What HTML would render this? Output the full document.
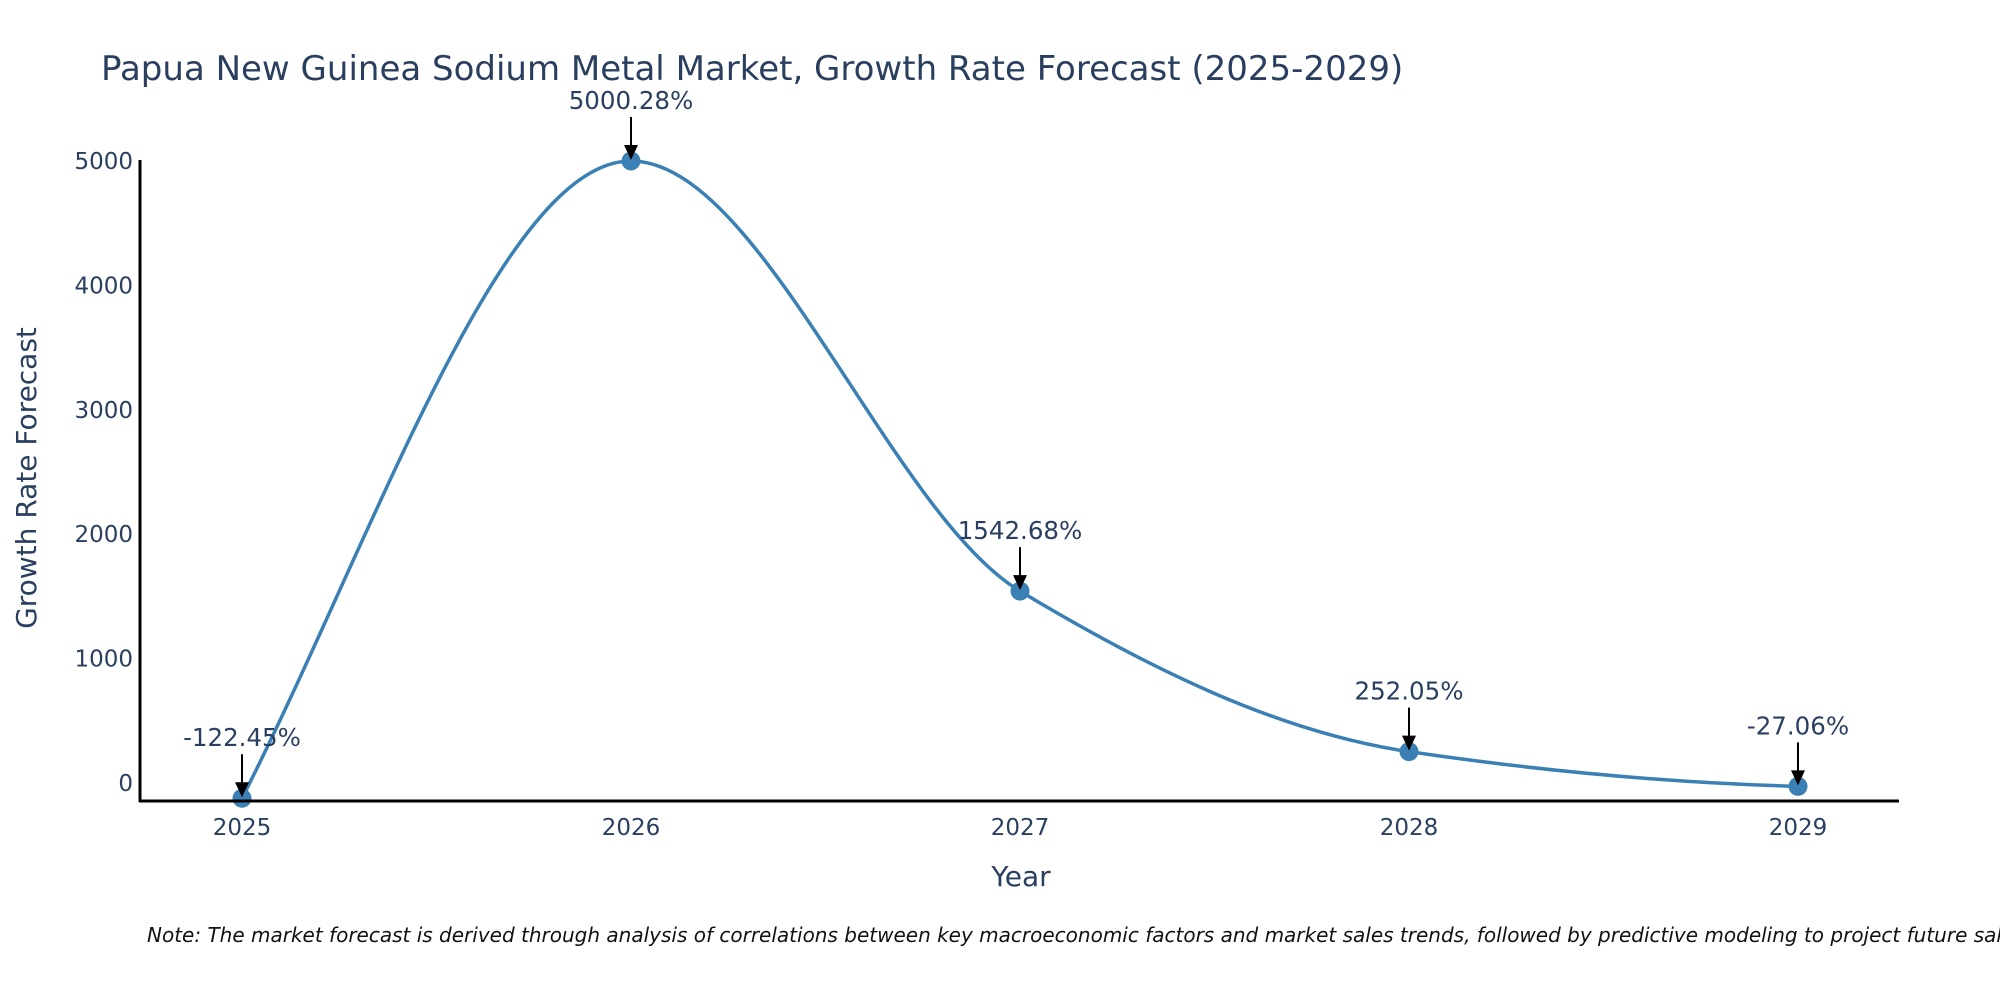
<!DOCTYPE html>
<html><head><meta charset="utf-8"><style>
body{margin:0;background:#fff}
svg text{font-family:"DejaVu Sans","Liberation Sans",sans-serif;fill:#2a3f5f}
</style></head><body>
<svg id="chart" width="2000" height="1000" xmlns="http://www.w3.org/2000/svg">
<rect width="2000" height="1000" fill="#fff"/>
<text x="101" y="80" font-size="34">Papua New Guinea Sodium Metal Market, Growth Rate Forecast (2025-2029)</text>
<g id="yticks"></g><g id="xticks"></g>
<path id="curve" fill="none" stroke="#3b80b5" stroke-width="3.5"/>
<g id="marks"></g>
<line x1="140" y1="160" x2="140" y2="802" stroke="#000" stroke-width="3"/>
<line x1="139" y1="801" x2="1899" y2="801" stroke="#000" stroke-width="3"/>
<text transform="translate(36,478) rotate(-90)" text-anchor="middle" font-size="28">Growth Rate Forecast</text>
<text x="1021" y="886" text-anchor="middle" font-size="28">Year</text>
<text x="147" y="942" font-size="20" font-style="italic" style="fill:#111">Note: The market forecast is derived through analysis of correlations between key macroeconomic factors and market sales trends, followed by predictive modeling to project future sales.</text>
</svg>
<script>
const years=[2025,2026,2027,2028,2029];
const values=[-122.45,5000.28,1542.68,252.05,-27.06];
const labels=["-122.45%","5000.28%","1542.68%","252.05%","-27.06%"];
const yTicks=[0,1000,2000,3000,4000,5000];
const NS="http://www.w3.org/2000/svg";
const X=v=>242+(v-2025)*389;
const Y=v=>783-v*0.1244;
const yt=document.getElementById('yticks'),xt=document.getElementById('xticks'),mk=document.getElementById('marks');
function el(t,a,p){const e=document.createElementNS(NS,t);for(const k in a)e.setAttribute(k,a[k]);p.appendChild(e);return e;}
yTicks.forEach(v=>{const t=el('text',{x:133,y:Y(v)+8,'text-anchor':'end','font-size':23},yt);t.textContent=v;

});
years.forEach(v=>{const t=el('text',{x:X(v),y:835,'text-anchor':'middle','font-size':23},xt);t.textContent=v;

});
const pts=years.map((y,i)=>[X(y),Y(values[i])]);
const n=pts.length,sl=[],m=[];
for(let i=0;i<n-1;i++)sl.push((pts[i+1][1]-pts[i][1])/(pts[i+1][0]-pts[i][0]));
for(let i=0;i<n;i++){
 if(i===0)m.push(sl[0]*1.2);
 else if(i===n-1)m.push(sl[n-2]*0.3);
 else m.push(sl[i-1]*sl[i]<=0?0:2/(1/sl[i-1]+1/sl[i]));
}
let d=`M${pts[0][0]},${pts[0][1]}`;
for(let i=0;i<n-1;i++){const h=(pts[i+1][0]-pts[i][0])/3;
d+=` C${pts[i][0]+h},${pts[i][1]+m[i]*h} ${pts[i+1][0]-h},${pts[i+1][1]-m[i+1]*h} ${pts[i+1][0]},${pts[i+1][1]}`;}
document.getElementById('curve').setAttribute('d',d);
pts.forEach((p,i)=>{
const c=el('circle',{cx:p[0],cy:p[1],r:9.5,fill:'#3b80b5'},mk);


const l=el('line',{x1:p[0],y1:p[1]-44,x2:p[0],y2:p[1]-14,stroke:'#000','stroke-width':2},mk);


const a=el('polygon',{points:`${p[0]-7},${p[1]-16} ${p[0]+7},${p[1]-16} ${p[0]},${p[1]-1}`,fill:'#000'},mk);


const t=el('text',{x:p[0],y:p[1]-52,'text-anchor':'middle','font-size':24.5},mk);t.textContent=labels[i];


});
</script>
</body></html>
